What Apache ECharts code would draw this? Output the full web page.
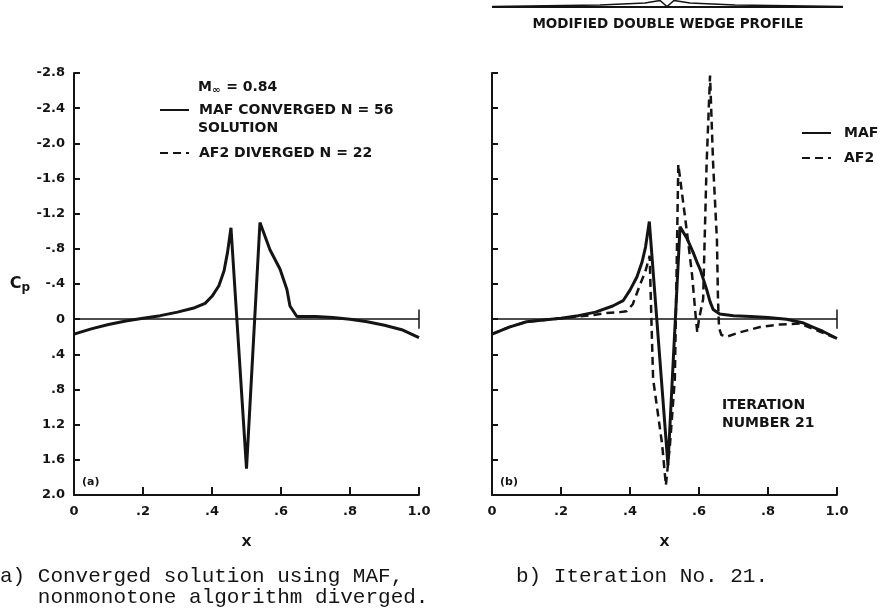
<!DOCTYPE html>
<html>
<head>
<meta charset="utf-8">
<script src="https://cdn.jsdelivr.net/npm/echarts@6/dist/echarts.min.js"></script>
<style>
html,body{margin:0;padding:0;background:#fff;}
#chart{width:880px;height:616px;}
</style>
</head>
<body>
<div id="chart"></div>
<script>
// ---- tick labels ----
const xTickLabels = ['0', '.2', '.4', '.6', '.8', '1.0'];
const yTickLabels = ['-2.8', '-2.4', '-2.0', '-1.6', '-1.2', '-.8', '-.4', '0', '.4', '.8', '1.2', '1.6', '2.0'];

// ---- panel (a): MAF converged solution ----
const mafA_x  = [0, 0.05, 0.1, 0.15, 0.2, 0.25, 0.3, 0.35, 0.38, 0.4, 0.42, 0.435, 0.445, 0.455, 0.5, 0.539, 0.568, 0.597, 0.617, 0.626, 0.646, 0.7, 0.75, 0.8, 0.85, 0.9, 0.95, 1.0];
const mafA_cp = [0.17, 0.11, 0.06, 0.02, -0.01, -0.04, -0.08, -0.13, -0.18, -0.26, -0.38, -0.55, -0.76, -1.04, 1.70, -1.10, -0.79, -0.57, -0.34, -0.15, -0.03, -0.03, -0.02, 0, 0.03, 0.07, 0.12, 0.21];

// ---- panel (b): iteration 21, MAF ----
const mafB_x  = [0, 0.05, 0.1, 0.15, 0.2, 0.25, 0.3, 0.35, 0.38, 0.4, 0.42, 0.435, 0.445, 0.456, 0.51, 0.545, 0.565, 0.583, 0.594, 0.603, 0.613, 0.622, 0.632, 0.641, 0.66, 0.7, 0.75, 0.8, 0.854, 0.9, 0.93, 0.96, 1.0];
const mafB_cp = [0.17, 0.09, 0.03, 0.01, -0.01, -0.04, -0.08, -0.15, -0.21, -0.33, -0.48, -0.65, -0.82, -1.11, 1.66, -1.05, -0.92, -0.76, -0.65, -0.57, -0.45, -0.34, -0.2, -0.11, -0.06, -0.04, -0.03, -0.02, 0, 0.04, 0.09, 0.14, 0.22];

// ---- panel (b): iteration 21, AF2 ----
const af2B_x  = [0, 0.05, 0.1, 0.15, 0.2, 0.25, 0.3, 0.333, 0.371, 0.39, 0.408, 0.428, 0.445, 0.457, 0.462, 0.467, 0.493, 0.504, 0.516, 0.53, 0.54, 0.555, 0.568, 0.58, 0.59, 0.595, 0.6, 0.612, 0.622, 0.632, 0.641, 0.652, 0.655, 0.658, 0.665, 0.68, 0.718, 0.777, 0.835, 0.893, 0.95, 1.0];
const af2B_cp = [0.17, 0.09, 0.03, 0.01, -0.01, -0.03, -0.05, -0.07, -0.08, -0.09, -0.17, -0.38, -0.55, -0.72, 0, 0.68, 1.42, 1.89, 1.42, 0.68, -1.76, -1.3, -0.9, -0.5, -0.05, 0.15, 0.0, -0.23, -1.76, -2.77, -1.76, -0.9, -0.23, 0.1, 0.18, 0.2, 0.15, 0.09, 0.06, 0.05, 0.14, 0.22];

const pairs = (xs, ys) => xs.map((x, i) => [x, ys[i]]);

const INK = '#141414';
const FONT = '"DejaVu Sans", "Liberation Sans", Arial, sans-serif';
const MONO = '"Liberation Mono", "DejaVu Sans Mono", monospace';

function xAxisCfg(gi) {
  return {
    type: 'value', gridIndex: gi, min: 0, max: 1, interval: 0.2,
    name: 'X', nameLocation: 'middle', nameGap: 41,
    nameTextStyle: {fontFamily: FONT, fontWeight: 'bold', fontSize: 13, color: INK},
    axisLine: {show: true, onZero: false, lineStyle: {color: INK, width: 2}},
    axisTick: {show: true, inside: true, length: 8, lineStyle: {color: INK, width: 2}},
    axisLabel: {show: true, margin: 10, fontFamily: FONT, fontWeight: 'bold', fontSize: 13, color: INK,
      formatter: v => xTickLabels[Math.round(v / 0.2)]},
    splitLine: {show: false}
  };
}
function yAxisCfg(gi, labels) {
  return {
    type: 'value', gridIndex: gi, min: -2.8, max: 2.0, interval: 0.4, inverse: true,
    name: labels ? '{c|C}{p|p}' : '', nameLocation: 'middle', nameRotate: 0, nameGap: 44,
    nameTextStyle: {rich: {
      c: {fontFamily: FONT, fontWeight: 'bold', fontSize: 16, color: INK},
      p: {fontFamily: FONT, fontWeight: 'bold', fontSize: 12, color: INK, verticalAlign: 'bottom', padding: [8, 0, 0, 0]}
    }},
    axisLine: {show: true, onZero: false, lineStyle: {color: INK, width: 2}},
    axisTick: {show: true, inside: true, length: 6, lineStyle: {color: INK, width: 2}},
    axisLabel: {show: !!labels, margin: 9, fontFamily: FONT, fontWeight: 'bold', fontSize: 13, color: INK,
      formatter: v => yTickLabels[Math.round((v + 2.8) / 0.4)]},
    splitLine: {show: false}
  };
}
function zeroLine() {
  return {
    silent: true, symbol: ['none', 'none'], label: {show: false},
    lineStyle: {color: INK, width: 1.5, type: 'solid'},
    emphasis: {disabled: true},
    data: [
      {yAxis: 0},
      [{coord: [1, -0.11]}, {coord: [1, 0.11]}]
    ]
  };
}
const legendText = {fontFamily: FONT, fontWeight: 'bold', fontSize: 14, color: INK};

const chart = echarts.init(document.getElementById('chart'), null, {renderer: 'canvas'});
chart.setOption({
  animation: false,
  backgroundColor: '#ffffff',
  grid: [
    {left: 74, top: 73, width: 345, height: 422, containLabel: false, outerBoundsMode: 'none'},
    {left: 492, top: 73, width: 345, height: 422, containLabel: false, outerBoundsMode: 'none'}
  ],
  xAxis: [xAxisCfg(0), xAxisCfg(1)],
  yAxis: [yAxisCfg(0, true), yAxisCfg(1, false)],
  legend: [
    {
      data: ['MAF CONVERGED N = 56', 'AF2 DIVERGED N = 22'],
      orient: 'vertical', left: 159, top: 103, itemWidth: 29, itemHeight: 14, itemGap: 29,
      selectedMode: false, padding: 0,
      itemStyle: {opacity: 0, borderWidth: 0},
      textStyle: Object.assign({padding: [0, 0, 0, 5]}, legendText)
    },
    {
      data: ['MAF', 'AF2'],
      orient: 'vertical', left: 801, top: 126, itemWidth: 29, itemHeight: 14, itemGap: 11,
      selectedMode: false, padding: 0,
      itemStyle: {opacity: 0, borderWidth: 0},
      textStyle: Object.assign({padding: [0, 0, 0, 8]}, legendText)
    }
  ],
  series: [
    {
      name: 'MAF CONVERGED N = 56', type: 'line', xAxisIndex: 0, yAxisIndex: 0,
      data: pairs(mafA_x, mafA_cp), symbol: 'none', smooth: false,
      lineStyle: {color: INK, width: 3}, itemStyle: {color: INK},
      markLine: zeroLine()
    },
    {
      name: 'AF2 DIVERGED N = 22', type: 'line', xAxisIndex: 0, yAxisIndex: 0,
      data: [], symbol: 'none',
      lineStyle: {color: INK, width: 2.5, type: [8, 5]}, itemStyle: {color: INK}
    },
    {
      name: 'MAF', type: 'line', xAxisIndex: 1, yAxisIndex: 1,
      data: pairs(mafB_x, mafB_cp), symbol: 'none', smooth: false,
      lineStyle: {color: INK, width: 3}, itemStyle: {color: INK},
      markLine: zeroLine()
    },
    {
      name: 'AF2', type: 'line', xAxisIndex: 1, yAxisIndex: 1,
      data: pairs(af2B_x, af2B_cp), symbol: 'none', smooth: false,
      lineStyle: {color: INK, width: 2.5, type: [8, 5]}, itemStyle: {color: INK}
    }
  ],
  graphic: [
    // airfoil profile sketch
    {type: 'polyline', silent: true, shape: {points: [[492, 7], [843, 7]]}, style: {stroke: INK, lineWidth: 2, fill: null}},
    {type: 'polyline', silent: true, shape: {points: [[492, 6.5], [600, 5], [645, 3], [660, 0.5], [667, 6.5], [674, 0.5], [690, 3], [735, 5], [843, 6.5]]}, style: {stroke: INK, lineWidth: 1.5, fill: null}},
    {type: 'text', silent: true, x: 668, y: 24, style: {text: 'MODIFIED DOUBLE WEDGE PROFILE', font: 'bold 13.5px ' + FONT, fill: INK, align: 'center', verticalAlign: 'middle'}},
    // panel (a) annotations
    {type: 'text', silent: true, x: 198, y: 87, style: {text: '{m|M}{s|∞}{m| = 0.84}', rich: {
      m: {font: 'bold 14px ' + FONT, fill: INK},
      s: {font: 'bold 10px ' + FONT, fill: INK, padding: [7, 1, 0, 0]}
    }, verticalAlign: 'middle'}},
    {type: 'text', silent: true, x: 198, y: 128, style: {text: 'SOLUTION', font: 'bold 14px ' + FONT, fill: INK, verticalAlign: 'middle'}},
    {type: 'text', silent: true, x: 82, y: 482, style: {text: '(a)', font: 'bold 11px ' + FONT, fill: INK, verticalAlign: 'middle'}},
    // panel (b) annotations
    {type: 'text', silent: true, x: 500, y: 482, style: {text: '(b)', font: 'bold 11px ' + FONT, fill: INK, verticalAlign: 'middle'}},
    {type: 'text', silent: true, x: 722, y: 405, style: {text: 'ITERATION', font: 'bold 14px ' + FONT, fill: INK, verticalAlign: 'middle'}},
    {type: 'text', silent: true, x: 722, y: 423, style: {text: 'NUMBER 21', font: 'bold 14px ' + FONT, fill: INK, verticalAlign: 'middle'}},
    // captions
    {type: 'text', silent: true, x: -12.6, y: 576, style: {text: '(a) Converged solution using MAF,', font: '21px ' + MONO, fill: INK, verticalAlign: 'middle'}},
    {type: 'text', silent: true, x: 37.8, y: 597, style: {text: 'nonmonotone algorithm diverged.', font: '21px ' + MONO, fill: INK, verticalAlign: 'middle'}},
    {type: 'text', silent: true, x: 516, y: 576, style: {text: 'b) Iteration No. 21.', font: '21px ' + MONO, fill: INK, verticalAlign: 'middle'}}
  ]
});
</script>
</body>
</html>
